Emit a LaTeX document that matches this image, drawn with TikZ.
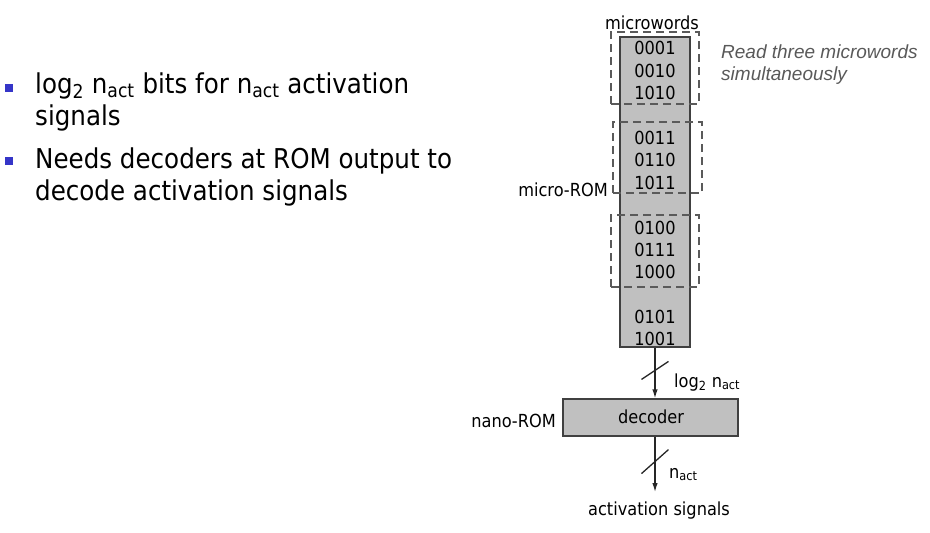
\documentclass[tikz,border=0pt]{standalone}
\usepackage{fontspec}
\setmainfont{DejaVu Sans}[FakeStretch=0.9]
\newfontfamily\notefont{Liberation Sans}
\usetikzlibrary{arrows.meta,calc}
\definecolor{romgray}{HTML}{C0C0C0}
\definecolor{edgegray}{HTML}{404040}
\definecolor{dashgray}{HTML}{5A5A5A}
\definecolor{bulletblue}{HTML}{3535C8}
\definecolor{notegray}{HTML}{595959}
\tikzset{
  bigtxt/.style={anchor=base west, inner sep=0pt, font=\fontsize{27.3}{32}\selectfont},
  bulletsq/.style={fill=bulletblue, draw=none, minimum size=8.5pt, inner sep=0pt},
  dtxt/.style={inner sep=0pt, font=\fontsize{18}{21}\selectfont},
  romword/.style={dtxt, anchor=base},
  notetxt/.style={anchor=base west, inner sep=0pt, text=notegray, font=\notefont\itshape\fontsize{19}{22}\selectfont},
  grpbox/.style={draw=dashgray, line width=2.4pt, dash pattern=on 8pt off 5pt, inner sep=0pt, fill=none},
  conn/.style={draw=black!85, line width=1.3pt, -{Latex[length=9pt,width=5.5pt]}},
  slash/.style={draw=black!85, line width=1.3pt},
}
\begin{document}
\begin{tikzpicture}[x=1pt,y=-1pt]
\useasboundingbox (0,0) rectangle (930,533);
% bullets
\node[bulletsq] (b1) at (9,88) {};
\node[bulletsq] (b2) at (9,161) {};
\node[bigtxt] (t1) at (35,93) {log\textsubscript{2} n\textsubscript{act} bits for n\textsubscript{act} activation};
\node[bigtxt] (t2) at (35,125) {signals};
\node[bigtxt] (t3) at (35,168) {Needs decoders at ROM output to};
\node[bigtxt] (t4) at (35,200) {decode activation signals};
% micro-ROM column
\node[fill=romgray, draw=edgegray, line width=1.2pt, minimum width=70pt, minimum height=310pt, inner sep=0pt] (rom) at (655,192) {};
\node[grpbox, minimum width=88pt, minimum height=72pt] (g1) at (655,68) {};
\node[grpbox, minimum width=89pt, minimum height=71pt] (g2) at (657.5,157.5) {};
\node[grpbox, minimum width=88pt, minimum height=72pt] (g3) at (655,251) {};
\node[romword] (w1) at (655,54) {0001};
\node[romword] (w2) at (655,77) {0010};
\node[romword] (w3) at (655,99) {1010};
\node[romword] (w4) at (655,144) {0011};
\node[romword] (w5) at (655,166) {0110};
\node[romword] (w6) at (655,189) {1011};
\node[romword] (w7) at (655,234) {0100};
\node[romword] (w8) at (655,256) {0111};
\node[romword] (w9) at (655,278) {1000};
\node[romword] (w10) at (655,323) {0101};
\node[romword] (w11) at (655,345) {1001};
\node[dtxt, anchor=base] (mw) at (652,29) {microwords};
\node[dtxt, anchor=base east] (mrom) at (608,196) {micro-ROM};
\node[notetxt] (n1) at (721,58) {Read three microwords};
\node[notetxt] (n2) at (721,80) {simultaneously};
% decoder
\node[fill=romgray, draw=edgegray, line width=1.3pt, minimum width=175pt, minimum height=37pt, inner sep=0pt] (dec) at (650.5,417.5) {};
\node[dtxt, anchor=base] (dect) at (651,423) {decoder};
\node[dtxt, anchor=base east] (nrom) at (556,427) {nano-ROM};
\coordinate (out) at (655,492);
\node[dtxt, anchor=base] (act) at (659,515) {activation signals};
% connectors
\draw[conn] (rom.south) -- (rom.south |- dec.north);
\draw[conn] (rom.south |- dec.south) -- (out);
\draw[slash] ($(rom.south)!0.45!(rom.south |- dec.north)$) ++(-13.5,9) -- ++(27,-18);
\draw[slash] ($(rom.south |- dec.south)!0.45!(out)$) ++(-13.5,12) -- ++(27,-24);
\node[dtxt, anchor=base west] (l1) at (674,387) {log\textsubscript{2} n\textsubscript{act}};
\node[dtxt, anchor=base west] (l2) at (669,478) {n\textsubscript{act}};
\end{tikzpicture}
\end{document}
